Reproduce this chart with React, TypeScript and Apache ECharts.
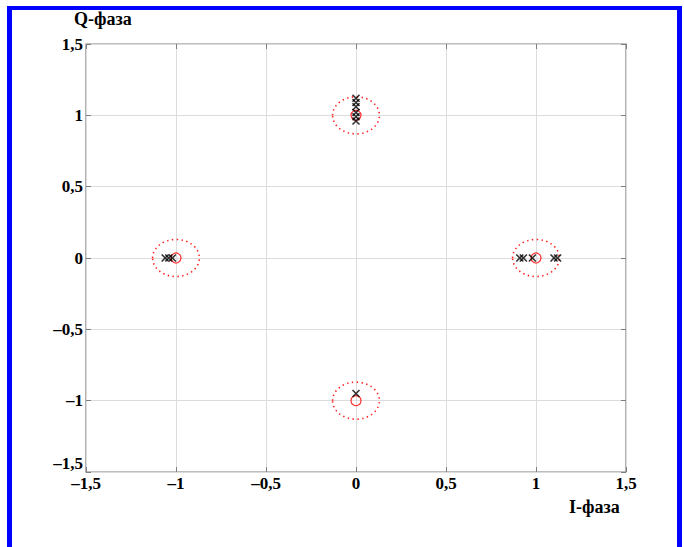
import React, { useEffect, useRef } from "react";
import * as echarts from "echarts";

// Ideal constellation points (QPSK)
const idealI = [1, -1, 0, 0];
const idealQ = [0, 0, 1, -1];

// Received symbols
const recvI = [0.91, 0.93, 0.98, 1.1, 1.12, -1.06, -1.04, -1.02, 0, 0, 0, 0, 0, 0, 0];
const recvQ = [0, 0, 0, 0, 0, 0, 0, 0, 1.12, 1.09, 1.06, 1.02, 0.99, 0.96, -0.95];

// Decision region radius around each ideal point
const thresholdRadius = 0.13;

const axisMin = -1.5;
const axisMax = 1.5;
const axisStep = 0.5;

const fmt = (v: number) => {
  const s = Math.abs(v).toString().replace(".", ",");
  return v < 0 ? "\u2013" + s : s;
};

const FONT = "'Liberation Serif', 'Times New Roman', serif";

export default function App() {
  const ref = useRef<HTMLDivElement>(null);

  useEffect(() => {
    document.body.style.margin = "0";
    if (!ref.current) return;
    const chart = echarts.init(ref.current, null, { renderer: "svg" });

    const labelStyle = {
      fontFamily: FONT,
      fontWeight: "bold" as const,
      fontSize: 17,
      color: "#000",
    };

    const baseAxis = {
      type: "value" as const,
      min: axisMin,
      max: axisMax,
      interval: axisStep,
    };
    const tick = { show: true, inside: true, length: 5, lineStyle: { color: "#7f7f7f" } };
    const noLine = { show: false, onZero: false };

    const idealData = idealI.map((v, i) => [v, idealQ[i]]);
    const recvData = recvI.map((v, i) => [v, recvQ[i]]);
    const circleData = idealI.map((v, i) => [v, idealQ[i], thresholdRadius]);

    chart.setOption({
      animation: false,
      backgroundColor: "#fff",
      grid: {
        left: 86,
        top: 44,
        width: 540,
        height: 428,
        show: true,
        borderColor: "#7f7f7f",
        borderWidth: 1.2,
        backgroundColor: "#fff",
      },
      xAxis: [
        {
          ...baseAxis,
          position: "bottom",
          axisLine: noLine,
          axisTick: tick,
          axisLabel: { ...labelStyle, margin: 3, formatter: fmt },
          splitLine: { show: true, lineStyle: { color: "#dcdcdc", width: 1 } },
        },
        {
          ...baseAxis,
          position: "top",
          axisLine: noLine,
          axisTick: tick,
          axisLabel: { show: false },
          splitLine: { show: false },
        },
      ],
      yAxis: [
        {
          ...baseAxis,
          position: "left",
          axisLine: noLine,
          axisTick: tick,
          axisLabel: {
            ...labelStyle,
            margin: 3,
            formatter: fmt,
            verticalAlignMinLabel: "bottom",
          },
          splitLine: { show: true, lineStyle: { color: "#dcdcdc", width: 1 } },
        },
        {
          ...baseAxis,
          position: "right",
          axisLine: noLine,
          axisTick: tick,
          axisLabel: { show: false },
          splitLine: { show: false },
        },
      ],
      series: [
        {
          type: "custom",
          name: "threshold",
          xAxisIndex: 0,
          yAxisIndex: 0,
          data: circleData,
          renderItem: (_params: any, api: any) => {
            const c = api.coord([api.value(0), api.value(1)]);
            const s = api.size([api.value(2), api.value(2)]);
            return {
              type: "ellipse",
              shape: { cx: c[0], cy: c[1], rx: s[0], ry: s[1] },
              style: {
                fill: "none",
                stroke: "#ff2020",
                lineWidth: 1.6,
                lineDash: [1.4, 3.4],
              },
            };
          },
          silent: true,
        },
        {
          type: "scatter",
          name: "ideal",
          data: idealData,
          symbol: "circle",
          symbolSize: 10,
          itemStyle: { color: "rgba(0,0,0,0)", borderColor: "#ff0000", borderWidth: 1.2 },
          z: 3,
        },
        {
          type: "scatter",
          name: "received",
          data: recvData,
          symbol: "path://M0,0L10,10M10,0L0,10",
          symbolSize: 7,
          itemStyle: { color: "rgba(0,0,0,0)", borderColor: "#000", borderWidth: 1.6 },
          z: 4,
        },
      ],
      graphic: [
        {
          type: "text",
          left: 74,
          top: 10,
          style: { text: "Q-фаза", font: `bold 18px ${FONT}`, fill: "#000" },
        },
        {
          type: "text",
          left: 569,
          top: 498,
          style: { text: "I-фаза", font: `bold 18px ${FONT}`, fill: "#000" },
        },
        { type: "rect", shape: { x: 7, y: 6, width: 675, height: 4 }, style: { fill: "#0000ff" } },
        { type: "rect", shape: { x: 7, y: 6, width: 5, height: 541 }, style: { fill: "#0000ff" } },
        { type: "rect", shape: { x: 677, y: 6, width: 5, height: 541 }, style: { fill: "#0000ff" } },
      ],
    });

    return () => chart.dispose();
  }, []);

  return <div ref={ref} style={{ width: 684, height: 547 }} />;
}
